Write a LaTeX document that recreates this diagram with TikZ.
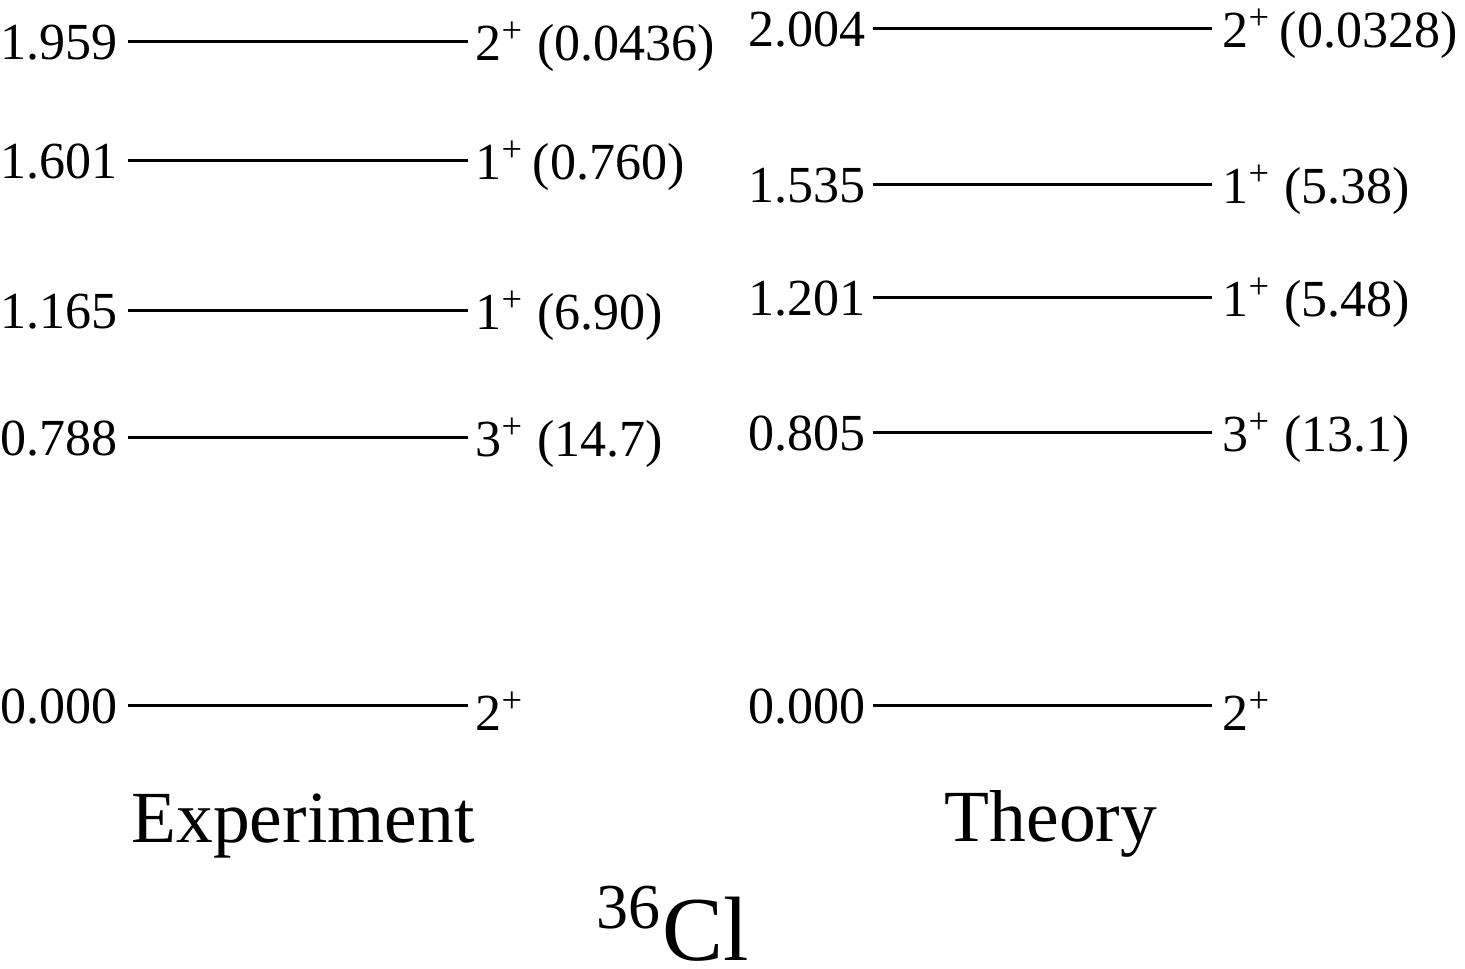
\documentclass[tikz,border=0pt]{standalone}
\usepackage{fontspec}
\setmainfont{Liberation Serif}
\begin{document}
\begin{tikzpicture}[x=0.01cm,y=-0.01cm,
  level/.style={line width=0.85pt},
  elab/.style={anchor=east,inner sep=0pt,font=\fontsize{14.8pt}{17pt}\selectfont},
  jlab/.style={anchor=west,inner sep=0pt,font=\fontsize{14.8pt}{17pt}\selectfont},
  title/.style={inner sep=0pt,font=\fontsize{20.9pt}{24pt}\selectfont}]
\useasboundingbox (0,0) rectangle (1465,969);
% Experiment
\foreach \n/\y/\e/\j in {a/41/1.959/{2\textsuperscript{+} (0.0436)},
                         b/160/1.601/{1\textsuperscript{+}\,(0.760)},
                         c/310/1.165/{1\textsuperscript{+} (6.90)},
                         d/437/0.788/{3\textsuperscript{+} (14.7)},
                         e/705/0.000/{2\textsuperscript{+}}}{
  \coordinate (x\n1) at (128,\y);
  \coordinate (x\n2) at (468,\y);
  \draw[level] (x\n1) -- (x\n2);
  \node[elab] (xe\n) at ([xshift=-0.1cm,yshift=-0.02cm]x\n1) {\e};
  \node[jlab] (xj\n) at ([xshift=0.07cm,yshift=-0.06cm]x\n2) {\j};
}
% Theory
\foreach \n/\y/\e/\j in {a/28/2.004/{2\textsuperscript{+}\,(0.0328)},
                         b/184/1.535/{1\textsuperscript{+} (5.38)},
                         c/297/1.201/{1\textsuperscript{+} (5.48)},
                         d/432/0.805/{3\textsuperscript{+} (13.1)},
                         e/705/0.000/{2\textsuperscript{+}}}{
  \coordinate (t\n1) at (873,\y);
  \coordinate (t\n2) at (1212,\y);
  \draw[level] (t\n1) -- (t\n2);
  \node[elab] (te\n) at ([xshift=-0.07cm,yshift=-0.02cm]t\n1) {\e};
  \node[jlab] (tj\n) at ([xshift=0.1cm,yshift=-0.06cm]t\n2) {\j};
}
\node[title] (exp) at (303,826) {Experiment};
\node[title] (th) at (1051,824) {Theory};
\node[inner sep=0pt,font=\fontsize{26pt}{30pt}\selectfont] (nuc) at (673,924) {\textsuperscript{36}Cl};
\end{tikzpicture}
\end{document}
